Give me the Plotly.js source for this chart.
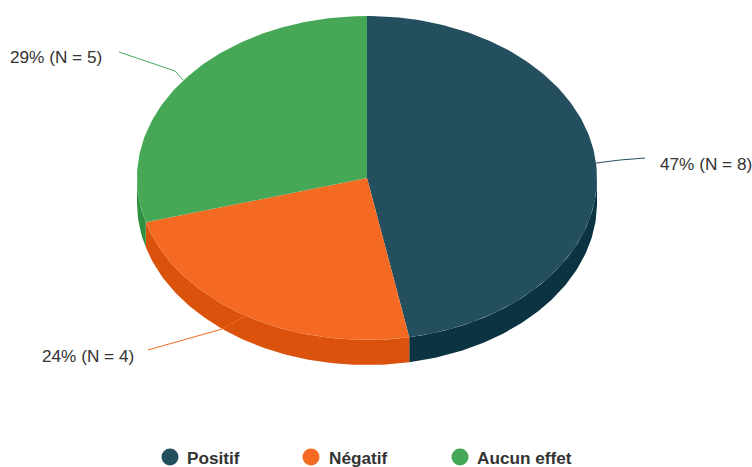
<!DOCTYPE html>
<html>
<head>
<meta charset="utf-8">
<script src="https://cdn.plot.ly/plotly-3.0.1.min.js"></script>
<style>html,body{margin:0;padding:0;background:#fff;overflow:hidden}#chart{width:752px;height:467px}</style>
</head>
<body>
<div id="chart"></div>
<script>
const categories = ["Positif", "Négatif", "Aucun effet"];
const counts = [8, 4, 5];
const percentLabels = [47, 24, 29];
const topColors = ["#234f5e", "#f46a22", "#46a857"];
const sideColors = ["#0b3341", "#da520b", "#2f9040"];

const cx = 367, cy = 178, rx = 230, ry = 162, depth = 25;
const legendX = [170, 311, 460];
const legendTextX = [187, 329, 477];
const legendY = 457;
const labelX = [660, 42, 10];
const labelY = [166, 358, 59];
const leaderKnee = [[620, 160], [222, 329], [175, 71]];
const leaderEnd = [[645, 158], [148, 350], [119, 52]];

const total = counts.reduce((a, b) => a + b, 0);
function px(a) { return cx + rx * Math.sin(a * Math.PI / 180); }
function py(a, d) { return cy - ry * Math.cos(a * Math.PI / 180) + (d || 0); }
function arc(a0, a1, d) {
  const xs = [], ys = [];
  const n = Math.max(2, Math.ceil(Math.abs(a1 - a0)));
  for (let i = 0; i <= n; i++) {
    const a = a0 + (a1 - a0) * i / n;
    xs.push(px(a)); ys.push(py(a, d));
  }
  return [xs, ys];
}

const sides = [], tops = [], leaders = [];
let start = 0;
counts.forEach((v, i) => {
  const end = start + v / total * 360;
  const s0 = Math.max(start, 90), s1 = Math.min(end, 270);
  if (s1 > s0) {
    const [ux, uy] = arc(s0, s1, 0);
    const [lx, ly] = arc(s1, s0, depth);
    sides.push({ type: "scatter", mode: "lines", x: ux.concat(lx), y: uy.concat(ly), fill: "toself",
      fillcolor: sideColors[i], line: { width: 0 }, showlegend: false, hoverinfo: "skip" });
  }
  const [ax, ay] = arc(start, end, 0);
  tops.push({ type: "scatter", mode: "lines", x: [cx].concat(ax), y: [cy].concat(ay), fill: "toself",
    fillcolor: topColors[i], line: { width: 0 }, showlegend: false, hoverinfo: "skip" });
  const mid = (start + end) / 2;
  leaders.push({ type: "scatter", mode: "lines",
    x: [px(mid), leaderKnee[i][0], leaderEnd[i][0]],
    y: [py(mid), leaderKnee[i][1], leaderEnd[i][1]],
    line: { color: topColors[i], width: 1 }, showlegend: false, hoverinfo: "skip" });
  start = end;
});

const labels = {
  type: "scatter", mode: "text", x: labelX, y: labelY,
  text: counts.map((c, i) => percentLabels[i] + "% (N = " + c + ")"),
  textposition: "middle right",
  textfont: { family: "Liberation Sans, Arial, sans-serif", size: 17.2, color: "#333333" },
  showlegend: false, hoverinfo: "skip", cliponaxis: false
};
const legendMarks = {
  type: "scatter", mode: "markers", x: legendX, y: legendX.map(() => legendY),
  marker: { size: 17, color: topColors },
  showlegend: false, hoverinfo: "skip", cliponaxis: false
};
const legendTexts = {
  type: "scatter", mode: "text", x: legendTextX, y: legendX.map(() => legendY + 3),
  text: categories, textposition: "middle right",
  textfont: { family: "Liberation Sans, Arial, sans-serif", size: 17.2, weight: 700, color: "#333333" },
  showlegend: false, hoverinfo: "skip", cliponaxis: false
};

Plotly.newPlot("chart", sides.concat(tops, leaders, [labels, legendMarks, legendTexts]), {
  width: 752, height: 467,
  margin: { l: 0, r: 0, t: 0, b: 0 },
  paper_bgcolor: "#ffffff", plot_bgcolor: "#ffffff",
  showlegend: false, hovermode: false,
  xaxis: { range: [0, 752], visible: false, fixedrange: true },
  yaxis: { range: [467, 0], visible: false, fixedrange: true }
}, { displayModeBar: false, staticPlot: true });
</script>
</body>
</html>
